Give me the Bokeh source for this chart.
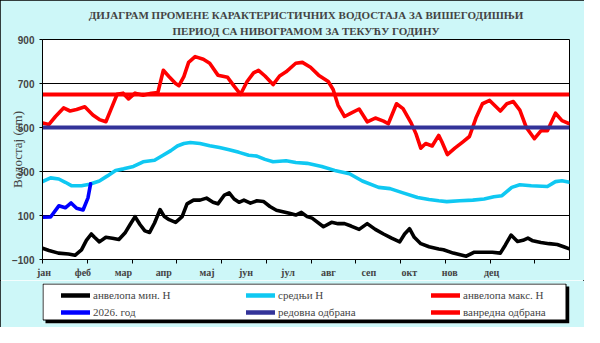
from bokeh.plotting import figure
from bokeh.layouts import column
from bokeh.models import Range1d, FixedTicker, Legend, LegendItem, Title
from bokeh.embed import file_html
from bokeh.resources import INLINE

# ---------------- data ----------------
title_line1 = "ДИЈАГРАМ ПРОМЕНЕ КАРАКТЕРИСТИЧНИХ ВОДОСТАЈА ЗА ВИШЕГОДИШЊИ"
title_line2 = "ПЕРИОД СА НИВОГРАМОМ ЗА ТЕКУЋУ ГОДИНУ"
y_label = "Водостај (cm)"

month_labels = ["јан", "феб", "мар", "апр", "мај", "јун", "јул", "авг", "сеп", "окт", "нов", "дец"]
month_label_days = [1, 28, 56, 84, 114, 141, 170, 198, 226, 254, 282, 311]
tick_days = [0, 31, 62, 93, 124, 155, 186, 217, 248, 279, 310, 341]
y_ticks = [-100, 100, 300, 500, 700, 900]
day_start, day_end = 0, 365

min_days = [0, 4.5, 11, 18, 22.5, 27, 30.4, 33.8, 36, 39.4, 43.9, 48.4, 52.9, 57.4, 60.7, 64.1, 67.5,
            70.9, 74.2, 77.6, 81.4, 84.4, 87.7, 92.2, 96.7, 100.1, 104.6, 109.1, 113.6, 118.1, 121.5,
            126, 129.3, 132.7, 136.1, 139.5, 144, 148.5, 153, 157.5, 162, 166.5, 171, 175.4, 179.3,
            183.3, 186.7, 194.6, 200.2, 204.7, 209.2, 213.7, 219.3, 224.9, 230.5, 236.2, 241.8, 247.4,
            250.8, 254.2, 257.5, 262, 267.7, 274.4, 277.7, 284.5, 293.5, 299.1, 304.7, 311.5, 317.1,
            320.5, 324.5, 329, 332.8, 336.2, 339.6, 345.2, 350.8, 356.5, 361, 365]
min_vals = [-49, -59, -71, -75, -81, -56, -13, 16, 1, -20, 1, -3, -9, 23, 59, 95, 59,
            30, 23, 66, 127, 95, 81, 69, 95, 153, 170, 170, 179, 160, 153,
            193, 203, 175, 160, 170, 156, 167, 164, 141, 124, 117, 110, 102, 114,
            95, 88, 49, 69, 63, 63, 52, 37, 63, 37, 16, -3, -20,
            16, 40, 1, -28, -42, -52, -56, -71, -85, -67, -67, -67, -71,
            -35, 11, -18, -13, -3, -15, -23, -28, -32, -42, -52]

mean_days = [0, 5.6, 11.3, 15.8, 20.3, 27, 32.6, 39.4, 45, 50.6, 56.2, 63, 69.7, 77.6, 83.2, 88.9,
             93.4, 97.9, 102.4, 109.1, 115.8, 122.6, 129.3, 136.1, 142.8, 148.5, 154.1, 159.7, 168.7,
             175.4, 183.3, 193.4, 202.4, 212.6, 221.5, 232.8, 240.7, 249.7, 259.8, 267.7, 274.4, 280,
             289, 298, 305.9, 312.6, 318.2, 325, 330.6, 338.5, 349.7, 355.3, 359.8, 365]
mean_vals = [254, 271, 266, 251, 235, 235, 242, 257, 280, 305, 312, 323, 344, 351, 373, 395,
             416, 427, 432, 427, 417, 409, 399, 387, 374, 370, 355, 344, 349,
             341, 337, 323, 305, 290, 257, 228, 222, 203, 182, 173, 167, 163,
             167, 170, 175, 185, 190, 228, 240, 235, 232, 254, 258, 251]

max_days = [0, 4.5, 9, 14.6, 19.1, 23.6, 29.3, 34.9, 39.4, 43.9, 47.2, 51.7, 55.8, 59.6, 64.1, 69.7,
            75.4, 79.9, 83.7, 87.7, 92.2, 94.5, 97.9, 101.2, 105.7, 111.4, 115.8, 121.5, 128.2, 132.7,
            137.2, 141.7, 146.2, 149.6, 154.1, 159.7, 164.2, 168.7, 175.4, 180, 185.6, 191.2, 197.9,
            201.3, 204.7, 209.2, 213.7, 219.3, 224.9, 230.5, 236.2, 239.5, 245.2, 249.7, 255.3, 258.7,
            262, 265.4, 269.9, 274.4, 276.6, 280.4, 285.6, 291.2, 295.7, 300.2, 304.7, 309.7, 317.1,
            321.6, 326.1, 330.6, 335.1, 340.7, 345.2, 349.7, 355.3, 359.8, 365]
max_vals = [521, 514, 550, 589, 575, 582, 594, 557, 536, 526, 579, 651, 656, 630, 656, 647,
            656, 659, 760, 731, 700, 690, 731, 796, 822, 810, 792, 738, 728, 688,
            651, 709, 748, 760, 734, 695, 734, 753, 792, 796, 774, 738, 709,
            673, 601, 550, 565, 584, 526, 543, 529, 517, 608, 586, 521, 471,
            406, 427, 416, 464, 435, 377, 406, 435, 459, 543, 608, 623, 575,
            608, 618, 579, 500, 449, 485, 485, 565, 531, 517]

cur_days = [0, 5.6, 11.3, 15.8, 19.8, 23.6, 28.1, 31.5, 33.3]
cur_vals = [92, 93, 144, 135, 157, 133, 125, 180, 244]

redovna = 500
vanredna = 650

legend_labels = ["анвелопа мин. Н", "средњи Н", "анвелопа макс. Н",
                 "2026. год", "редовна одбрана", "ванредна одбрана"]

# ---------------- styles ----------------
BG = "#cdf7f8"
C_MIN, C_MEAN, C_MAX, C_CUR, C_RED, C_VANR = "black", "#0fc8f2", "#ff0000", "#0000ff", "#333399", "#ff0000"
legend_colors = [C_MIN, C_MEAN, C_MAX, C_CUR, C_RED, C_VANR]
curve_kw = dict(line_width=3.6, line_cap="round", line_join="round")
flat_kw = dict(line_width=4)
BORDER_L, BORDER_R = 42, 15

# ---------------- main figure ----------------
p = figure(width=584, height=280, output_backend="svg", toolbar_location=None, title=None,
           x_range=Range1d(day_start, day_end), y_range=Range1d(-100, 900),
           min_border_left=BORDER_L, min_border_right=BORDER_R, min_border_top=39, min_border_bottom=21)
p.background_fill_color = "white"
p.border_fill_color = BG
p.outline_line_color = "black"
p.outline_line_width = 1

t2 = Title(text=title_line2, align="center", text_font="Liberation Serif", text_font_size="11px",
           text_font_style="bold", standoff=5, offset=4)
t1 = Title(text=title_line1, align="center", text_font="Liberation Serif", text_font_size="11px",
           text_font_style="bold", standoff=0, offset=4)
p.add_layout(t2, "above")
p.add_layout(t1, "above")

p.yaxis.ticker = FixedTicker(ticks=y_ticks)
p.ygrid.ticker = FixedTicker(ticks=y_ticks)
p.ygrid.grid_line_color = "black"
p.ygrid.grid_line_width = 1
p.xgrid.visible = False
p.yaxis.major_label_text_font = "Liberation Sans"
p.yaxis.major_label_text_font_style = "bold"
p.yaxis.major_label_text_font_size = "10px"
p.yaxis.major_label_standoff = 5
p.yaxis.major_tick_out = 3
p.yaxis.major_tick_in = 0
p.yaxis.minor_tick_line_color = None
p.yaxis.axis_line_color = "black"
p.yaxis.axis_label = y_label
p.yaxis.axis_label_text_font = "Liberation Serif"
p.yaxis.axis_label_text_font_style = "normal"
p.yaxis.axis_label_text_font_size = "13px"
p.yaxis.axis_label_standoff = -16

p.xaxis.ticker = FixedTicker(ticks=month_label_days, minor_ticks=tick_days)
p.xaxis.major_label_overrides = {d: m for d, m in zip(month_label_days, month_labels)}
p.xaxis.major_tick_line_color = None
p.xaxis.major_tick_out = 0
p.xaxis.major_tick_in = 0
p.xaxis.minor_tick_line_color = "black"
p.xaxis.minor_tick_out = 4
p.xaxis.minor_tick_in = 0
p.xaxis.major_label_standoff = 3
p.xaxis.major_label_text_font = "Liberation Serif"
p.xaxis.major_label_text_font_style = "bold"
p.xaxis.major_label_text_font_size = "10px"
p.xaxis.axis_line_color = "black"

p.line(min_days, min_vals, line_color=C_MIN, **curve_kw)
p.line(mean_days, mean_vals, line_color=C_MEAN, **curve_kw)
p.line(max_days, max_vals, line_color=C_MAX, **curve_kw)
p.line(cur_days, cur_vals, line_color=C_CUR, **curve_kw)
p.line([day_start, day_end], [redovna, redovna], line_color=C_RED, **flat_kw)
p.line([day_start, day_end], [vanredna, vanredna], line_color=C_VANR, **flat_kw)

# ---------------- legend strip ----------------
FW = 584 - BORDER_L - BORDER_R
FH = 40
q = figure(width=584, height=47, output_backend="svg", toolbar_location=None, title=None,
           x_range=Range1d(0, FW), y_range=Range1d(0, FH),
           x_axis_location=None, y_axis_location=None,
           min_border_left=BORDER_L, min_border_right=BORDER_R, min_border_top=3, min_border_bottom=4)
q.border_fill_color = BG
q.background_fill_color = BG
q.outline_line_color = None
q.grid.visible = False
# box with drop shadow
q.quad(left=[3], right=[FW], top=[FH - 3], bottom=[0], fill_color="black", line_color=None)
q.quad(left=[0.5], right=[FW - 3.5], top=[FH - 0.5], bottom=[3.5], fill_color="white",
       line_color="black", line_width=1)

nan = float("nan")
leg_renderers = [q.line(x=[nan], y=[nan], line_color=c, line_width=4.5, line_cap="round")
                 for c in legend_colors]

col_x = [19, 204, 389]
for k, x0 in enumerate(col_x):
    items = [LegendItem(label=legend_labels[k], renderers=[leg_renderers[k]]),
             LegendItem(label=legend_labels[k + 3], renderers=[leg_renderers[k + 3]])]
    leg = Legend(items=items, location=(x0, 4), orientation="vertical",
                 glyph_width=29, glyph_height=14, label_height=14, label_width=20, label_standoff=3,
                 spacing=3, padding=2, margin=0, border_line_color=None, background_fill_alpha=0,
                 label_text_font="Liberation Serif", label_text_font_size="11px")
    q.add_layout(leg, "center")

layout = column(p, q, spacing=0, styles={"outline": "1px solid black", "outline-offset": "-1px"})

open("out.html", "w").write(file_html(layout, INLINE))
